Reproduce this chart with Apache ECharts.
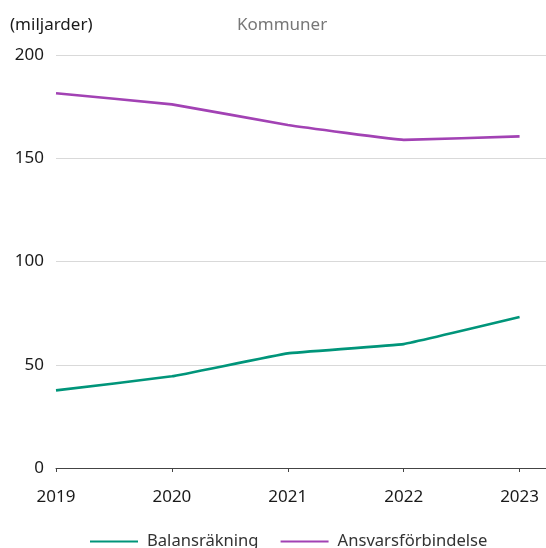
<!DOCTYPE html>
<html>
<head>
<meta charset="utf-8">
<script src="https://cdn.jsdelivr.net/npm/echarts@6/dist/echarts.min.js"></script>
<style>
html,body{margin:0;padding:0;background:#fff;}
#chart{width:546px;height:548px;}
</style>
</head>
<body>
<div id="chart"></div>
<script>
const years = [2019, 2020, 2021, 2022, 2023];
const balansrakning = [37.6, 44.4, 55.5, 60.0, 73.1];
const ansvarsforbindelse = [181.5, 176.1, 166.1, 158.9, 160.6];
const yTicks = [0, 50, 100, 150, 200];
const seriesNames = ['Balansräkning', 'Ansvarsförbindelse'];
const colors = ['#00957a', '#a242b4'];

const FONT = '"Noto Sans", sans-serif';
const chart = echarts.init(document.getElementById('chart'), null, {renderer: 'canvas'});
chart.setOption({
  animation: false,
  color: colors,
  textStyle: {fontFamily: FONT},
  grid: {left: 56, right: 0, top: 55, bottom: 80, containLabel: false},
  graphic: [
    {type: 'text', left: 10, top: 17, style: {text: '(miljarder)', fontSize: 17, fill: '#1a1a1a', fontFamily: FONT}},
    {type: 'text', left: 237, top: 17, style: {text: 'Kommuner', fontSize: 17, fill: '#777777', fontFamily: FONT}}
  ],
  legend: {
    top: 533,
    left: 90,
    padding: 0,
    itemGap: 22,
    itemWidth: 48,
    itemHeight: 2,
    icon: 'rect',
    textStyle: {fontSize: 16.6, color: '#333', fontFamily: FONT, padding: [0, 0, 0, 4]},
    data: seriesNames
  },
  xAxis: {
    type: 'value',
    min: years[0],
    max: years[years.length - 1] + 0.228,
    interval: 1,
    axisLine: {show: true, lineStyle: {color: '#444', width: 1}},
    axisTick: {show: true, length: 4, lineStyle: {color: '#444'}, customValues: years},
    axisLabel: {customValues: years, fontSize: 17, color: '#1a1a1a', margin: 21, fontFamily: FONT, formatter: v => String(v)},
    splitLine: {show: false}
  },
  yAxis: {
    type: 'value',
    min: 0,
    max: 200,
    interval: 50,
    axisLine: {show: false},
    axisTick: {show: false},
    axisLabel: {customValues: yTicks, fontSize: 17, color: '#1a1a1a', margin: 12, fontFamily: FONT},
    splitLine: {show: true, lineStyle: {color: '#d9d9d9', width: 1}}
  },
  series: [
    {name: seriesNames[0], type: 'line', data: years.map((y, i) => [y, balansrakning[i]]), showSymbol: false, symbol: 'none', smooth: 0.07, lineStyle: {width: 2.6, color: colors[0]}, itemStyle: {color: colors[0]}},
    {name: seriesNames[1], type: 'line', data: years.map((y, i) => [y, ansvarsforbindelse[i]]), showSymbol: false, symbol: 'none', smooth: 0.07, lineStyle: {width: 2.6, color: colors[1]}, itemStyle: {color: colors[1]}}
  ]
});
</script>
</body>
</html>
